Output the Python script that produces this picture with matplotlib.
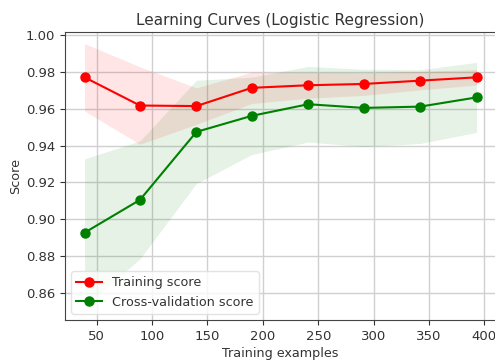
import numpy as np
import matplotlib
matplotlib.use("Agg")
import matplotlib.pyplot as plt

train_sizes = [39, 89, 140, 190, 241, 291, 342, 393]
train_mean = [0.9770, 0.9617, 0.9614, 0.9713, 0.9727, 0.9734, 0.9752, 0.9770]
train_std = [0.0183, 0.0210, 0.0099, 0.0085, 0.0070, 0.0062, 0.0050, 0.0042]
cv_mean = [0.8927, 0.9105, 0.9474, 0.9561, 0.9624, 0.9604, 0.9611, 0.9661]
cv_std = [0.0400, 0.0320, 0.0280, 0.0210, 0.0205, 0.0210, 0.0200, 0.0190]

title = "Learning Curves (Logistic Regression)"
xlabel = "Training examples"
ylabel = "Score"

txt = "#333333"
plt.rcParams.update({
    "font.family": "DejaVu Sans",
    "text.color": txt,
    "axes.labelcolor": txt,
    "xtick.color": txt,
    "ytick.color": txt,
})

fig = plt.figure(figsize=(4.95, 3.62), dpi=100)
ax = fig.add_axes([0.1313, 0.116, 0.871, 0.7956])

x = np.array(train_sizes)
tm, ts = np.array(train_mean), np.array(train_std)
cm, cs = np.array(cv_mean), np.array(cv_std)

ax.grid(True, color="#d0d0d0", linewidth=1)
ax.set_axisbelow(True)
ax.fill_between(x, tm - ts, tm + ts, alpha=0.1, color="r", linewidth=0)
ax.fill_between(x, cm - cs, cm + cs, alpha=0.1, color="g", linewidth=0)
ax.plot(x, tm, 'o-', color="r", label="Training score", linewidth=1.5, markersize=6.5)
ax.plot(x, cm, 'o-', color="g", label="Cross-validation score", linewidth=1.5, markersize=6.5)

ax.set_xlim(21.3, 410.7)
ax.set_ylim(0.8453, 1.0016)
ax.set_xticks([50, 100, 150, 200, 250, 300, 350, 400])
ax.set_yticks([0.86, 0.88, 0.90, 0.92, 0.94, 0.96, 0.98, 1.00])
ax.tick_params(labelsize=9.5, length=3.5)
ax.set_title(title, fontsize=11, pad=5)
ax.set_xlabel(xlabel, fontsize=9.2, labelpad=3)
ax.set_ylabel(ylabel, fontsize=9.2, labelpad=3)
for s in ax.spines.values():
    s.set_color("#444444")
ax.legend(loc="lower left", fontsize=9.2, framealpha=0.8, edgecolor="#dddddd")

fig.savefig("out.png", dpi=100)
